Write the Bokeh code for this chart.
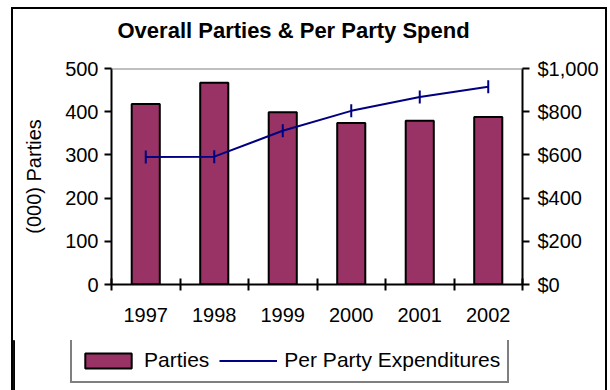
import math
from bokeh.plotting import figure
from bokeh.layouts import column
from bokeh.models import (Range1d, LinearAxis, FixedTicker, NumeralTickFormatter,
                          Legend, LegendItem, Span, ColumnDataSource, Label)
from bokeh.embed import file_html
from bokeh.resources import INLINE

years = ["1997", "1998", "1999", "2000", "2001", "2002"]
parties = [418, 467, 399, 374, 379, 388]
spend = [590, 592, 712, 804, 868, 915]
title_text = "Overall Parties & Per Party Spend"

xs = list(range(1, len(years) + 1))
src = ColumnDataSource(dict(x=xs, parties=parties, spend=spend))

FONT = "Liberation Sans"
FS = "20px"
BAR = "#993366"
NAVY = "#000080"


def strip(h, xr, yr):
    f = figure(width=592, height=h, output_backend="svg", toolbar_location=None,
               x_axis_location=None, y_axis_location=None, x_range=xr, y_range=yr,
               min_border_left=0, min_border_right=0, min_border_top=0, min_border_bottom=0)
    f.frame_align = False
    f.outline_line_color = None
    f.xgrid.visible = False
    f.ygrid.visible = False
    f.border_fill_color = None
    f.background_fill_color = None
    return f


# title strip
t = strip(45, Range1d(0, 592), Range1d(45, 0))
t.add_layout(Label(x=104, y=21, text=title_text, text_font=FONT, text_font_size="22px",
                   text_font_style="bold", text_color="black", text_baseline="alphabetic",
                   text_align="left"))

p = figure(width=592, height=286, output_backend="svg", toolbar_location=None,
           x_range=Range1d(0.5, 6.5), y_range=Range1d(0, 500),
           min_border_left=98, min_border_right=83, min_border_top=14,
           min_border_bottom=56)
p.frame_align = False
p.outline_line_color = None
p.xgrid.visible = False
p.ygrid.visible = False
p.background_fill_color = None
p.border_fill_color = None

p.extra_y_ranges = {"usd": Range1d(0, 1000)}

p.add_layout(Span(location=500, dimension="width", line_color="#808080", line_width=2))

bars = p.vbar(x="x", top="parties", width=0.41, source=src, fill_color=BAR,
              line_color="black", line_width=2)
ln = p.line(x="x", y="spend", source=src, y_range_name="usd", line_color=NAVY,
            line_width=2)
mk = p.scatter(x="x", y="spend", source=src, y_range_name="usd", marker="dash",
               angle=math.pi / 2, size=13, line_color=NAVY, line_width=2)

# x axis
xa = p.xaxis[0]
xa.ticker = FixedTicker(ticks=xs, minor_ticks=[i + 0.5 for i in range(0, 7)])
xa.major_label_overrides = {x: y for x, y in zip(xs, years)}
xa.major_tick_line_color = None
xa.minor_tick_in = 6
xa.minor_tick_out = 6
xa.minor_tick_line_width = 2
xa.minor_tick_line_color = "black"
xa.axis_line_width = 2
xa.axis_line_color = "black"
xa.major_label_standoff = 17
xa.major_label_text_font = FONT
xa.major_label_text_font_size = FS
xa.major_label_text_color = "black"

# left y axis
ya = p.yaxis[0]
ya.ticker = FixedTicker(ticks=[0, 100, 200, 300, 400, 500])
ya.minor_tick_line_color = None
ya.major_tick_in = 0
ya.major_tick_out = 7
ya.major_tick_line_width = 2
ya.axis_line_width = 2
ya.axis_line_color = "black"
ya.major_label_standoff = 6
ya.major_label_text_font = FONT
ya.major_label_text_font_size = FS
ya.major_label_text_color = "black"
ya.axis_label = "(000) Parties"
ya.axis_label_text_font = FONT
ya.axis_label_text_font_size = FS
ya.axis_label_text_font_style = "normal"
ya.axis_label_text_color = "black"
ya.axis_label_standoff = 17

# right y axis
ra = LinearAxis(y_range_name="usd", ticker=FixedTicker(ticks=[0, 200, 400, 600, 800, 1000]),
                formatter=NumeralTickFormatter(format="$0,0"))
ra.minor_tick_line_color = None
ra.major_tick_in = 0
ra.major_tick_out = 7
ra.major_tick_line_width = 2
ra.axis_line_width = 2
ra.axis_line_color = "black"
ra.major_label_standoff = 8
ra.major_label_text_font = FONT
ra.major_label_text_font_size = FS
ra.major_label_text_color = "black"
p.add_layout(ra, "right")

# legend strip below the chart (its renderers reuse the data, kept out of view)
q = strip(50, Range1d(100, 101), Range1d(0, 1))
lbar = q.vbar(x="x", top="parties", width=0.41, source=src, fill_color=BAR,
              line_color="black", line_width=2)
lline = q.line(x="x", y="spend", source=src, line_color=NAVY, line_width=2)
lmk = q.scatter(x="x", y="spend", source=src, marker="dash", angle=math.pi / 2, size=13,
                line_color=NAVY, line_width=2)

legend = Legend(items=[LegendItem(label="Parties", renderers=[lbar]),
                       LegendItem(label="Per Party Expenditures", renderers=[lline, lmk])],
                location=(57, 7), orientation="horizontal")
legend.border_line_color = "black"
legend.border_line_width = 2
legend.background_fill_alpha = 1
legend.padding = 7
legend.margin = 0
legend.spacing = 10
legend.label_standoff = 7
legend.glyph_width = 58
legend.glyph_height = 19
legend.label_height = 28
legend.label_text_font = FONT
legend.label_text_font_size = "21px"
legend.label_text_color = "black"
q.add_layout(legend, "center")

lay = column(t, p, q, spacing=0)
lay.margin = (9, 0, 0, 13)
lay.styles = {"outline": "2px solid black", "outline-offset": "0px"}

open("out.html", "w").write(file_html(lay, INLINE))
